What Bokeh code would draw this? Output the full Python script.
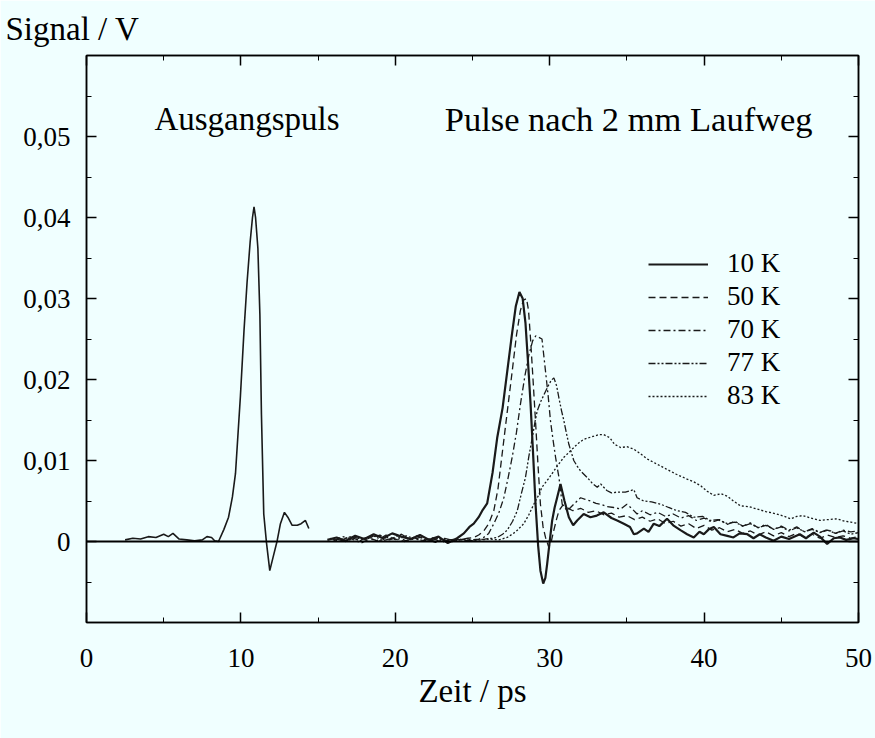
from bokeh.plotting import figure
from bokeh.models import (FixedTicker, CustomJSTickFormatter, LinearAxis, Label,
                          Legend, LegendItem, Span, Range1d, Title)
from bokeh.embed import file_html
from bokeh.resources import INLINE

FONT = "Liberation Serif"
BG = "#f0ffff"

# --- data -------------------------------------------------------------------
x_ticks = [0, 10, 20, 30, 40, 50]
x_minor = [5, 15, 25, 35, 45]
y_ticks = [0.0, 0.01, 0.02, 0.03, 0.04, 0.05]
y_minor = [-0.005, 0.005, 0.015, 0.025, 0.035, 0.045, 0.055]

labels = ["10 K", "50 K", "70 K", "77 K", "83 K"]

# initial pulse (Ausgangspuls)
x_in = [2.5, 3.0, 3.5, 4.0, 4.5, 5.0, 5.3, 5.6, 6.0, 6.5, 7.0, 7.5, 7.8, 8.1, 8.3, 8.55,
        8.9, 9.2, 9.45, 9.65, 9.97, 10.2, 10.4, 10.6, 10.75, 10.85, 10.95, 11.1, 11.23,
        11.33, 11.48, 11.66, 11.87, 12.09, 12.35, 12.56, 12.82, 13.04, 13.32, 13.65,
        13.9, 14.18, 14.4]
y_in = [0.0002, 0.0004, 0.0003, 0.0006, 0.0005, 0.0009, 0.0006, 0.0010, 0.0003, 0.0002,
        0.0001, 0.0002, 0.0006, 0.0005, 0.0001, 0.0000, 0.0015, 0.0030, 0.0055, 0.0084,
        0.0180, 0.0260, 0.0320, 0.0370, 0.0400, 0.0413, 0.0400, 0.0362, 0.0280, 0.0157,
        0.0034, -0.0002, -0.0036, -0.0019, 0.0001, 0.0022, 0.0036, 0.0030, 0.0020,
        0.0020, 0.0022, 0.0026, 0.0016]

x_10 = [15.6, 16.2, 16.8, 17.4, 18.0, 18.6, 19.2, 19.8, 20.4, 21.0, 21.6, 22.2, 22.8, 23.4,
        24.0, 24.44, 24.8, 25.08, 25.4, 25.63, 25.95, 26.3, 26.6, 26.95, 27.25, 27.55, 27.8,
        28.04, 28.25, 28.43, 28.6, 28.76, 28.92, 29.08, 29.25, 29.4, 29.58, 29.72, 29.84,
        30.0, 30.16, 30.32, 30.48, 30.7, 30.96, 31.24, 31.52, 31.78, 32.2, 32.64, 33.05,
        33.5, 34.0, 34.37, 34.8, 35.2, 35.45, 35.66, 36.1, 36.4, 36.74, 37.1, 37.6, 38.0,
        38.47, 38.9, 39.33, 39.7, 39.98, 40.3, 40.63, 41.06, 41.5, 41.9, 42.3, 42.8, 43.2,
        43.6, 44.0, 44.5, 45.0, 45.5, 46.2, 46.6, 47.1, 47.5, 47.97, 48.4, 48.8, 49.2, 49.7,
        50.0]
y_10 = [0.0002, 0.0005, 0.0001, 0.0007, 0.0003, 0.0009, 0.0004, 0.0010, 0.0006, 0.0003,
        0.0008, 0.0002, 0.0006, -0.0002, 0.0004, 0.0010, 0.0018, 0.0022, 0.0030, 0.0038,
        0.0047, 0.0085, 0.0128, 0.0165, 0.0210, 0.0255, 0.0290, 0.0308, 0.0300, 0.0270,
        0.0220, 0.0170, 0.0110, 0.0047, -0.0005, -0.0036, -0.0052, -0.0045, -0.0027,
        0.0000, 0.0026, 0.0042, 0.0054, 0.0071, 0.0050, 0.0030, 0.0020, 0.0026, 0.0034,
        0.0030, 0.0032, 0.0036, 0.0029, 0.0026, 0.0022, 0.0018, 0.0009, 0.0010, 0.0016,
        0.0012, 0.0022, 0.0019, 0.0028, 0.0020, 0.0014, 0.0009, 0.0005, 0.0012, 0.0009,
        0.0015, 0.0018, 0.0009, 0.0007, 0.0005, 0.0010, 0.0009, 0.0004, 0.0009, 0.0005,
        0.0001, 0.0006, 0.0003, 0.0009, 0.0004, 0.0011, 0.0006, -0.0003, 0.0004, 0.0005,
        0.0002, 0.0004, 0.0003]

x_50 = [15.8, 16.4, 17.0, 17.6, 18.2, 18.8, 19.4, 20.0, 20.6, 21.2, 21.8, 22.4, 23.0, 23.6,
        24.2, 24.7, 25.1, 25.4, 25.73, 26.05, 26.38, 26.65, 26.92, 27.25, 27.57, 27.85,
        28.1, 28.3, 28.5, 28.63, 28.76, 28.92, 29.08, 29.24, 29.4, 29.57, 29.73, 29.94,
        30.1, 30.27, 30.45, 30.6, 30.85, 31.1, 31.5, 32.0, 32.5, 33.0, 33.5, 34.0, 34.5,
        35.0, 35.5, 36.0, 36.5, 37.0, 37.5, 38.0, 38.5, 39.0, 39.5, 40.0, 40.5, 41.0, 41.5,
        42.0, 42.5, 43.0, 43.5, 44.0, 44.5, 45.0, 45.5, 46.0, 46.5, 47.0, 47.5, 48.0, 48.5,
        49.0, 49.5, 50.0]
y_50 = [0.0004, 0.0000, 0.0006, 0.0002, 0.0005, 0.0001, 0.0008, 0.0003, 0.0000, 0.0005,
        0.0001, 0.0004, -0.0001, 0.0003, 0.0002, 0.0004, 0.0005, 0.0008, 0.0013, 0.0022,
        0.0038, 0.0065, 0.0108, 0.0160, 0.0210, 0.0255, 0.0285, 0.0298, 0.0300, 0.0285,
        0.0250, 0.0200, 0.0149, 0.0095, 0.0046, 0.0018, 0.0005, -0.0007, 0.0000, 0.0014,
        0.0028, 0.0038, 0.0045, 0.0042, 0.0038, 0.0041, 0.0036, 0.0038, 0.0033, 0.0035,
        0.0030, 0.0032, 0.0027, 0.0030, 0.0025, 0.0028, 0.0022, 0.0025, 0.0019, 0.0022,
        0.0016, 0.0020, 0.0014, 0.0017, 0.0012, 0.0015, 0.0010, 0.0013, 0.0008, 0.0012,
        0.0007, 0.0011, 0.0006, 0.0010, 0.0005, 0.0009, 0.0004, 0.0008, 0.0005, 0.0007,
        0.0004, 0.0006]

x_70 = [16.0, 16.6, 17.2, 17.8, 18.4, 19.0, 19.6, 20.2, 20.8, 21.4, 22.0, 22.6, 23.2, 23.8,
        24.4, 25.0, 25.4, 25.73, 26.05, 26.38, 26.7, 27.03, 27.3, 27.57, 27.85, 28.1, 28.4,
        28.65, 28.9, 29.1, 29.3, 29.5, 29.73, 29.9, 30.05, 30.22, 30.38, 30.5, 30.6, 30.81,
        31.13, 31.35, 31.56, 32.0, 32.3, 32.64, 33.0, 33.3, 33.7, 34.15, 34.6, 35.0, 35.3,
        35.66, 36.0, 36.5, 37.0, 37.5, 38.0, 38.5, 39.0, 39.5, 40.0, 40.5, 41.0, 41.5, 42.0,
        42.5, 43.0, 43.5, 44.0, 44.5, 45.0, 45.5, 46.0, 46.5, 47.0, 47.5, 48.0, 48.5, 49.0,
        49.5, 50.0]
y_70 = [0.0001, 0.0006, 0.0003, -0.0002, 0.0004, 0.0008, 0.0002, 0.0005, 0.0000, 0.0007,
        0.0003, -0.0001, 0.0004, 0.0001, 0.0003, 0.0002, 0.0003, 0.0005, 0.0010, 0.0022,
        0.0035, 0.0054, 0.0078, 0.0104, 0.0135, 0.0169, 0.0205, 0.0230, 0.0248, 0.0254,
        0.0252, 0.0250, 0.0210, 0.0180, 0.0149, 0.0125, 0.0104, 0.0090, 0.0079, 0.0046,
        0.0038, 0.0042, 0.0046, 0.0054, 0.0052, 0.0050, 0.0047, 0.0046, 0.0043, 0.0042,
        0.0040, 0.0046, 0.0041, 0.0034, 0.0038, 0.0033, 0.0036, 0.0031, 0.0034, 0.0029,
        0.0032, 0.0026, 0.0029, 0.0024, 0.0027, 0.0021, 0.0025, 0.0019, 0.0023, 0.0017,
        0.0021, 0.0015, 0.0019, 0.0014, 0.0018, 0.0012, 0.0016, 0.0011, 0.0015, 0.0010,
        0.0014, 0.0012, 0.0013]

x_77 = [16.2, 16.8, 17.4, 18.0, 18.6, 19.2, 19.8, 20.4, 21.0, 21.6, 22.2, 22.8, 23.4, 24.0,
        24.6, 25.2, 25.8, 26.3, 26.6, 26.95, 27.25, 27.6, 27.9, 28.15, 28.43, 28.65, 28.87,
        29.05, 29.19, 29.4, 29.6, 29.9, 30.1, 30.27, 30.45, 30.6, 30.76, 30.92, 31.08, 31.24,
        31.4, 31.56, 31.78, 32.0, 32.43, 32.75, 33.08, 33.3, 33.7, 34.0, 34.37, 34.9, 35.45,
        35.66, 36.1, 36.6, 37.2, 37.7, 38.26, 38.8, 39.33, 39.9, 40.4, 40.9, 41.5, 42.0,
        42.5, 43.0, 43.5, 44.0, 44.5, 45.0, 45.5, 46.0, 46.5, 47.0, 47.5, 48.0, 48.5, 49.0,
        49.5, 50.0]
y_77 = [0.0003, 0.0000, 0.0005, 0.0002, 0.0007, 0.0001, 0.0004, 0.0009, 0.0002, 0.0005,
        0.0000, 0.0004, 0.0002, 0.0003, 0.0001, 0.0002, 0.0003, 0.0004, 0.0005, 0.0009,
        0.0014, 0.0025, 0.0038, 0.0058, 0.0079, 0.0105, 0.0128, 0.0148, 0.0161, 0.0172,
        0.0180, 0.0192, 0.0199, 0.0202, 0.0192, 0.0177, 0.0162, 0.0149, 0.0134, 0.0120,
        0.0110, 0.0100, 0.0093, 0.0087, 0.0079, 0.0072, 0.0067, 0.0071, 0.0063, 0.0060,
        0.0061, 0.0061, 0.0064, 0.0054, 0.0050, 0.0049, 0.0046, 0.0042, 0.0038, 0.0036,
        0.0030, 0.0031, 0.0026, 0.0027, 0.0022, 0.0024, 0.0019, 0.0022, 0.0017, 0.0020,
        0.0015, 0.0018, 0.0013, 0.0017, 0.0012, 0.0015, 0.0011, 0.0014, 0.0010, 0.0013,
        0.0009, 0.0011]

x_83 = [16.5, 17.1, 17.7, 18.3, 18.9, 19.5, 20.1, 20.7, 21.3, 21.9, 22.5, 23.1, 23.7, 24.3,
        24.9, 25.5, 26.1, 26.7, 27.25, 27.8, 28.32, 28.65, 28.97, 29.25, 29.5, 29.9, 30.27,
        30.6, 30.92, 31.25, 31.56, 31.9, 32.2, 32.5, 32.86, 33.2, 33.5, 33.9, 34.2, 34.6,
        35.0, 35.45, 35.9, 36.3, 36.9, 37.6, 38.2, 38.9, 39.3, 39.77, 40.2, 40.63, 41.1,
        41.5, 41.9, 42.36, 42.9, 43.44, 44.0, 44.7, 45.2, 45.6, 46.0, 46.4, 46.9, 47.5,
        48.0, 48.6, 49.1, 49.5, 50.0]
y_83 = [0.0002, 0.0006, 0.0001, 0.0004, 0.0000, 0.0005, 0.0002, 0.0007, 0.0003, 0.0001,
        0.0005, 0.0002, 0.0000, 0.0003, 0.0001, 0.0002, 0.0003, 0.0002, 0.0005, 0.0012,
        0.0022, 0.0033, 0.0046, 0.0056, 0.0067, 0.0077, 0.0087, 0.0096, 0.0104, 0.0110,
        0.0116, 0.0122, 0.0126, 0.0128, 0.0130, 0.0132, 0.0132, 0.0128, 0.0120, 0.0116,
        0.0117, 0.0114, 0.0108, 0.0102, 0.0096, 0.0089, 0.0083, 0.0077, 0.0074, 0.0069,
        0.0062, 0.0057, 0.0059, 0.0056, 0.0050, 0.0044, 0.0043, 0.0040, 0.0037, 0.0034,
        0.0031, 0.0028, 0.0031, 0.0032, 0.0029, 0.0026, 0.0027, 0.0028, 0.0025, 0.0024,
        0.0022]

# --- figure -------------------------------------------------------------------
p = figure(width=875, height=738, output_backend="svg", toolbar_location=None,
           x_range=Range1d(0, 50), y_range=Range1d(-0.01, 0.06),
           min_border_left=86, min_border_right=17, min_border_top=55,
           min_border_bottom=116, background_fill_color=BG, border_fill_color=BG)
p.grid.visible = False
p.outline_line_color = "black"
p.outline_line_width = 1.5

bottom = p.xaxis[0]
left = p.yaxis[0]

bottom.ticker = FixedTicker(ticks=x_ticks, minor_ticks=x_minor)
left.ticker = FixedTicker(ticks=y_ticks, minor_ticks=y_minor)
bottom.formatter = CustomJSTickFormatter(code="return tick.toFixed(0);")
left.formatter = CustomJSTickFormatter(
    code="return tick == 0 ? '0' : tick.toFixed(2).replace('.', ',');")

blank = CustomJSTickFormatter(code="return '';")
top = LinearAxis(ticker=FixedTicker(ticks=x_ticks, minor_ticks=x_minor), formatter=blank)
right = LinearAxis(ticker=FixedTicker(ticks=y_ticks, minor_ticks=y_minor), formatter=blank)
p.add_layout(top, "above")
p.add_layout(right, "right")

for ax in [bottom, left, top, right]:
    ax.major_tick_in = 10
    ax.major_tick_out = 0
    ax.minor_tick_in = 5
    ax.minor_tick_out = 0
    ax.axis_line_color = "black"
    ax.axis_line_width = 1.5
    ax.major_tick_line_width = 1.5
    ax.major_label_text_font = FONT
    ax.major_label_text_font_size = "27px"
    ax.major_label_text_color = "black"
for ax in [top, right]:
    ax.major_label_standoff = 0
    ax.major_label_text_font_size = "1px"

left.major_label_standoff = 16
bottom.major_label_standoff = 26
bottom.axis_label = "Zeit / ps"
bottom.axis_label_text_font = FONT
bottom.axis_label_text_font_size = "33px"
bottom.axis_label_text_font_style = "normal"
bottom.axis_label_text_color = "black"
bottom.axis_label_standoff = 3

# y-axis caption above the frame, at the top left corner
p.add_layout(Title(text="Signal / V", align="left", vertical_align="top", offset=-81,
                   text_font=FONT, text_font_size="33px", text_font_style="normal",
                   text_color="black", standoff=14), "above")

# baseline at zero
p.add_layout(Span(location=0, dimension="width", line_color="black", line_width=2))

col = "#1a1a1a"
p.line(x_in, y_in, line_color=col, line_width=1.6)
r10 = p.line(x_10, y_10, line_color=col, line_width=2.2)
r50 = p.line(x_50, y_50, line_color=col, line_width=1.3, line_dash="7 4")
r70 = p.line(x_70, y_70, line_color=col, line_width=1.3, line_dash="7 3 2 3")
r77 = p.line(x_77, y_77, line_color=col, line_width=1.3, line_dash="7 2 2 2 2 2")
r83 = p.line(x_83, y_83, line_color=col, line_width=1.3, line_dash="2 2")

legend = Legend(items=[LegendItem(label=l, renderers=[r]) for l, r in
                       zip(labels, [r10, r50, r70, r77, r83])],
                location=(562, 211), background_fill_alpha=0, border_line_color=None,
                label_text_font=FONT, label_text_font_size="27px",
                label_text_color="black", glyph_width=60,
                glyph_height=20, label_height=20, spacing=2, label_standoff=19,
                padding=0, margin=0)
p.add_layout(legend, "center")

for txt, xx, fs in [("Ausgangspuls", 4.4, "33px"), ("Pulse nach 2 mm Laufweg", 23.2, "34.5px")]:
    p.add_layout(Label(x=xx, y=0.0521, text=txt, text_font=FONT, text_font_size=fs,
                       text_color="black", text_baseline="middle"))

open("out.html", "w").write(file_html(p, INLINE))
